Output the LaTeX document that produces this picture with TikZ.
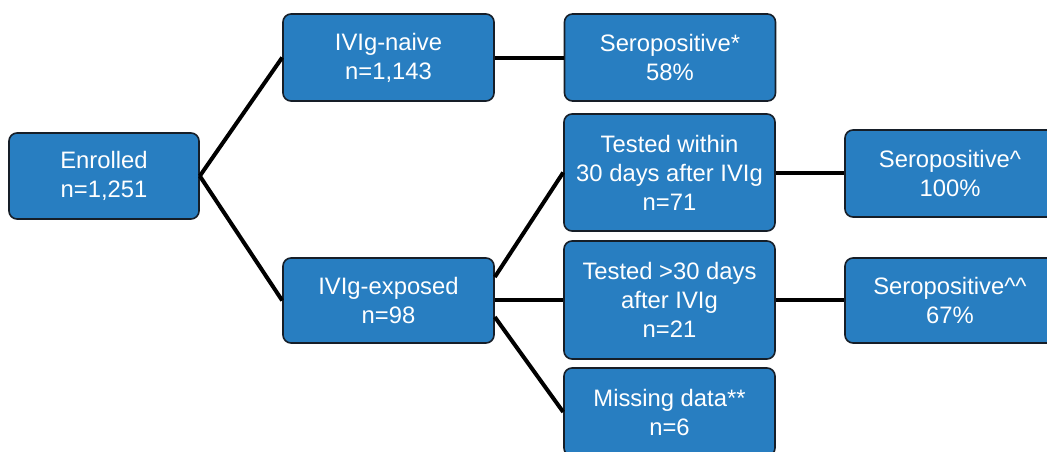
\documentclass[tikz,border=0pt]{standalone}
\usepackage{fontspec}
\setmainfont{Liberation Sans}
\definecolor{boxblue}{RGB}{40,126,193}
\definecolor{boxedge}{RGB}{22,30,40}
\tikzset{
  flowbox/.style={draw=boxedge, line width=1.6pt, fill=boxblue, rounded corners=8pt,
    text=white, align=center, inner sep=0pt,
    font=\fontsize{23.8pt}{29pt}\selectfont},
  link/.style={line width=4pt, draw=black}
}
\begin{document}
\begin{tikzpicture}[x=1pt,y=-1pt]
\useasboundingbox (0,0) rectangle (1047,451);
\clip (0,0) rectangle (1047,451);

% first level
\node[flowbox, minimum width=190pt, minimum height=86pt] (enr) at (104,176) {Enrolled\\n=1,251};

% second level
\node[flowbox, minimum width=211pt, minimum height=87pt] (naive) at (388.5,57.5) {IVIg-naive\\n=1,143};
\node[flowbox, minimum width=211pt, minimum height=85pt] (exposed) at (388.5,300.5) {IVIg-exposed\\n=98};

% third level
\node[flowbox, minimum width=211pt, minimum height=87pt] (sp1) at (670,57.5) {Seropositive*\\58\%};
\node[flowbox, minimum width=211pt, minimum height=117pt] (within) at (669.5,172.5) {Tested within\\30 days after IVIg\\n=71};
\node[flowbox, minimum width=211pt, minimum height=118pt] (gt30) at (669.5,300) {Tested >30 days\\after IVIg\\n=21};
\node[flowbox, minimum width=211pt, minimum height=88pt] (miss) at (669.5,412) {Missing data**\\n=6};

% fourth level
\node[flowbox, minimum width=210pt, minimum height=87pt] (sp2) at (950,173.5) {Seropositive\textasciicircum\\100\%};
\node[flowbox, minimum width=210pt, minimum height=85pt] (sp3) at (950,300.5) {Seropositive\textasciicircum\textasciicircum\\67\%};

% connectors
\draw[link] (enr.east) -- (naive.west);
\draw[link] (enr.east) -- (exposed.west);
\draw[link] (naive.east) -- (sp1.west);
\draw[link] ([yshift=23.5pt]exposed.east) -- (within.west);
\draw[link] ([yshift=1pt]exposed.east) -- ([yshift=0.5pt]gt30.west);
\draw[link] ([yshift=-16.5pt]exposed.east) -- (miss.west);
\draw[link] (within.east) -- (within.east -| sp2.west);
\draw[link] (gt30.east) -- (gt30.east -| sp3.west);
\end{tikzpicture}
\end{document}
